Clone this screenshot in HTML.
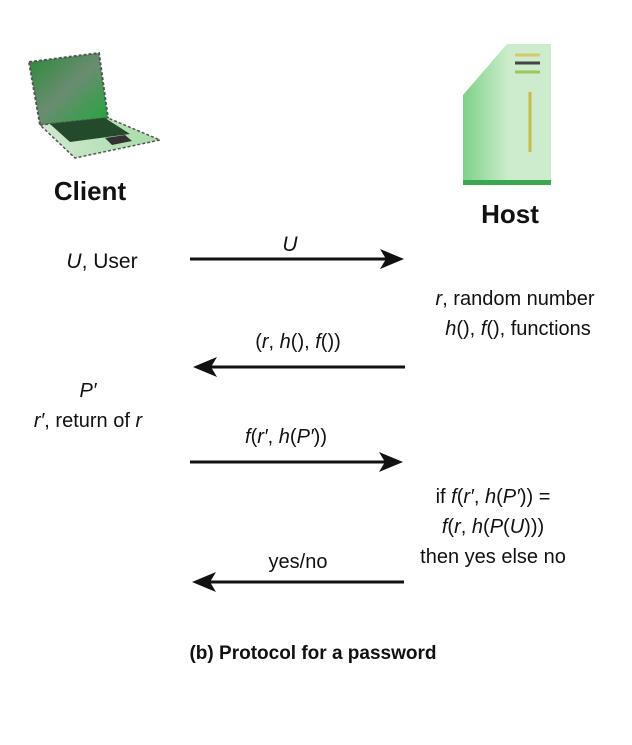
<!DOCTYPE html>
<html><head><meta charset="utf-8"><style>
html,body{margin:0;padding:0;background:#fff}
svg text{font-family:"Liberation Sans",sans-serif;fill:#111}
</style></head><body>
<svg width="632" height="740" viewBox="0 0 632 740" xmlns="http://www.w3.org/2000/svg">
<defs>
<linearGradient id="scr" x1="0" y1="0" x2="1" y2="1"><stop offset="0" stop-color="#2a8a3a"/><stop offset="0.5" stop-color="#6a8c70"/><stop offset="1" stop-color="#1fa83a"/></linearGradient>
<linearGradient id="base" x1="0" y1="0" x2="1" y2="0"><stop offset="0" stop-color="#cfe8cf"/><stop offset="1" stop-color="#a8dca8"/></linearGradient>
<linearGradient id="side" x1="0" y1="0" x2="1" y2="0"><stop offset="0" stop-color="#7fd08a"/><stop offset="1" stop-color="#c8ecc8"/></linearGradient>
</defs>
<!-- laptop -->
<polygon points="29,62 99,53 108,118 40,125" fill="url(#scr)" stroke="#555" stroke-width="2" stroke-dasharray="3,2"/>
<polygon points="40,125 108,118 160,140 75,158" fill="url(#base)" stroke="#555" stroke-width="1.5" stroke-dasharray="3,2"/>
<polygon points="50,124 105,118 130,134 70,142" fill="#244a2c"/>
<polygon points="105,138 125,135 132,141 112,145" fill="#333"/>
<!-- server -->
<polygon points="463,95 507,44 507,185 463,185" fill="url(#side)"/>
<polygon points="507,44 551,44 551,185 507,185" fill="#cdeccd"/>
<line x1="530" y1="92" x2="530" y2="152" stroke="#c9b84a" stroke-width="3"/>
<line x1="515" y1="55" x2="540" y2="55" stroke="#d8c86a" stroke-width="3"/>
<line x1="515" y1="63" x2="540" y2="63" stroke="#444" stroke-width="3"/>
<line x1="515" y1="72" x2="540" y2="72" stroke="#9ac85a" stroke-width="3"/>
<rect x="463" y="180" width="88" height="5" fill="#3aa850"/>
<!-- labels -->
<text x="90" y="200" font-size="26" font-weight="bold" text-anchor="middle">Client</text>
<text x="510" y="223" font-size="26" font-weight="bold" text-anchor="middle">Host</text>
<text x="102" y="268" font-size="21" text-anchor="middle"><tspan font-style="italic">U</tspan>, User</text>
<text x="290" y="251" font-size="21" font-style="italic" text-anchor="middle">U</text>
<text x="515" y="305" font-size="20" text-anchor="middle"><tspan font-style="italic">r</tspan>, random number</text>
<text x="518" y="335" font-size="20" text-anchor="middle"><tspan font-style="italic">h</tspan>(), <tspan font-style="italic">f</tspan>(), functions</text>
<text x="298" y="348" font-size="20" text-anchor="middle">(<tspan font-style="italic">r</tspan>, <tspan font-style="italic">h</tspan>(), <tspan font-style="italic">f</tspan>())</text>
<text x="88" y="397" font-size="20" font-style="italic" text-anchor="middle">P′</text>
<text x="88" y="427" font-size="20" text-anchor="middle"><tspan font-style="italic">r′</tspan>, return of <tspan font-style="italic">r</tspan></text>
<text x="286" y="443" font-size="20" text-anchor="middle"><tspan font-style="italic">f</tspan>(<tspan font-style="italic">r′</tspan>, <tspan font-style="italic">h</tspan>(<tspan font-style="italic">P′</tspan>))</text>
<text x="493" y="503" font-size="20" text-anchor="middle">if <tspan font-style="italic">f</tspan>(<tspan font-style="italic">r′</tspan>, <tspan font-style="italic">h</tspan>(<tspan font-style="italic">P′</tspan>)) =</text>
<text x="493" y="533" font-size="20" text-anchor="middle"><tspan font-style="italic">f</tspan>(<tspan font-style="italic">r</tspan>, <tspan font-style="italic">h</tspan>(<tspan font-style="italic">P</tspan>(<tspan font-style="italic">U</tspan>)))</text>
<text x="493" y="563" font-size="20" text-anchor="middle">then yes else no</text>
<text x="298" y="568" font-size="20" text-anchor="middle">yes/no</text>
<text x="313" y="659" font-size="19" font-weight="bold" text-anchor="middle">(b) Protocol for a password</text>
<!-- arrows -->
<g stroke="#111" stroke-width="3" fill="#111">
<line x1="190" y1="259" x2="390" y2="259"/>
<polygon points="404,259 380,249 386,259 380,269" stroke="none"/>
<line x1="207" y1="367" x2="405" y2="367"/>
<polygon points="193,367 217,357 211,367 217,377" stroke="none"/>
<line x1="190" y1="462" x2="389" y2="462"/>
<polygon points="403,462 379,452 385,462 379,472" stroke="none"/>
<line x1="206" y1="582" x2="404" y2="582"/>
<polygon points="192,582 216,572 210,582 216,592" stroke="none"/>
</g>
</svg>
</body></html>
